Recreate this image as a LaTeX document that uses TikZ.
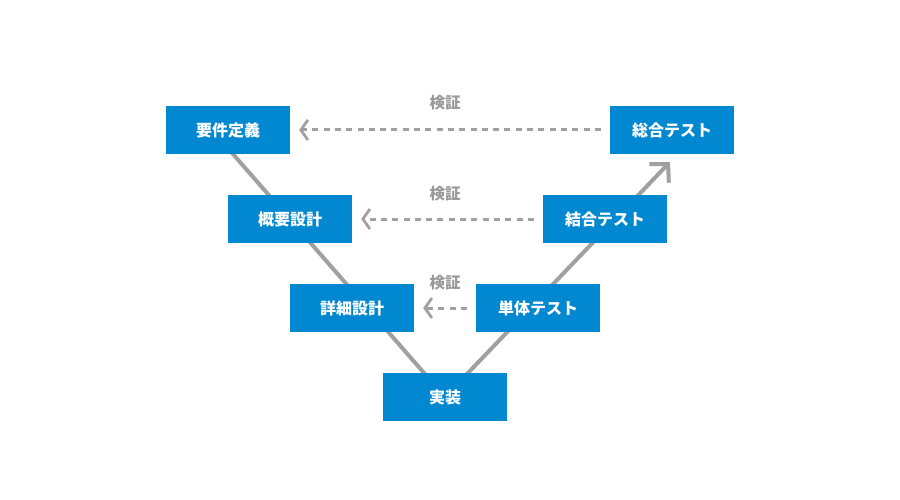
\documentclass[tikz,border=0pt]{standalone}
\usepackage{fontspec}
\setmainfont{Noto Sans CJK JP}
\usetikzlibrary{arrows.meta}
\definecolor{boxblue}{HTML}{0288D1}
\definecolor{linegray}{HTML}{A0A0A0}
\definecolor{labelgray}{HTML}{999999}
\begin{document}
\begin{tikzpicture}[x=1pt,y=-1pt,
  stage/.style={fill=boxblue, draw=none, minimum width=124pt, minimum height=48pt,
    inner sep=0pt, text=white, font=\fontsize{16}{19}\selectfont\bfseries},
  vline/.style={draw=linegray, line width=4pt},
  verify/.style={draw=linegray, line width=3pt, dash pattern=on 6pt off 5.3pt,
    -{Straight Barb[length=7pt,width=20pt,line width=2.8pt]},
    shorten >=9pt, shorten <=9pt},
  vlabel/.style={text=labelgray, font=\fontsize{15.5}{18}\selectfont\bfseries, inner sep=0pt}]
\useasboundingbox (0,0) rectangle (900,500);
\fill[white] (0,0) rectangle (900,500);
% V lines behind boxes
\coordinate (lstart) at (212,130);
\coordinate (vbottom) at (445,397);
\coordinate (rtip) at (670,162);
\draw[vline] (lstart) -- (vbottom);
\draw[vline, -{Straight Barb[length=13pt,width=27pt,line width=4pt]}] (vbottom) -- (rtip);
% boxes
\node[stage] (req) at (228,130) {要件定義};
\node[stage] (sys) at (672,130) {総合テスト};
\node[stage] (bas) at (290,219) {概要設計};
\node[stage] (int) at (605,219) {結合テスト};
\node[stage] (det) at (352,308) {詳細設計};
\node[stage] (unit) at (538,308) {単体テスト};
\node[stage] (impl) at (445,397) {実装};
% verification arrows
\draw[verify] (sys.west) -- (req.east);
\draw[verify] (int.west) -- (bas.east);
\draw[verify] (unit.west) -- (det.east);
\node[vlabel] (l1) at (445,103) {検証};
\node[vlabel] (l2) at (445,194) {検証};
\node[vlabel] (l3) at (445,283) {検証};
\end{tikzpicture}
\end{document}
